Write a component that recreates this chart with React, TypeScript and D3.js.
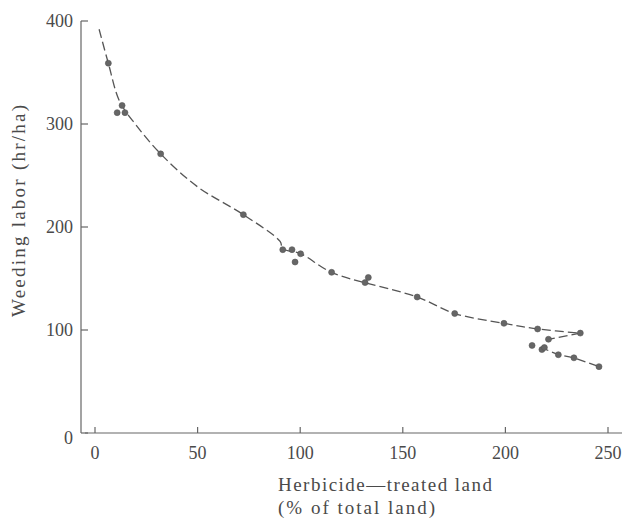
import React from "react";
import * as d3 from "d3";

const xTicks = [0, 50, 100, 150, 200, 250];
const yTicks = [0, 100, 200, 300, 400];

const pointsX = [6.5, 13.2, 10.8, 14.6, 32, 72.3, 91.5, 96, 100.2, 97.5, 115.3, 131.6, 133.2, 157, 175.3, 199.3, 215.7, 236.5, 221, 217.8, 219, 213, 225.8, 233.4, 245.6];
const pointsY = [359, 318, 311, 311, 271, 212, 178, 178, 174, 166, 156, 146, 151, 132, 116, 106.5, 101, 97, 91, 81, 83, 85, 76, 73, 64.4];

const curveX = [2, 6.5, 12, 20, 32, 50, 72.3, 90.2, 91.5, 100.4, 115.3, 157, 175.4, 199.3, 215.7, 236.5];
const curveY = [392, 359, 322, 299, 271, 239, 212, 186, 179, 174, 156, 132, 116, 106.5, 101, 97];

const tailX = [236.5, 221, 218.6, 225.8, 233.4, 245.6];
const tailY = [97, 91, 82, 76, 73, 64.4];

const xTitle1 = "Herbicide\u2014treated land";
const xTitle2 = "(% of total land)";
const yTitle = "Weeding labor (hr/ha)";

export default function App() {
  const W = 625, H = 520;
  const x = d3.scaleLinear().domain([0, 250]).range([95, 608]);
  const y = d3.scaleLinear().domain([0, 400]).range([433, 21]);
  const ink = "#4a4a4a";
  const font = "'Liberation Serif', 'DejaVu Serif', serif";

  const smooth = d3.line<[number, number]>()
    .x(d => x(d[0])).y(d => y(d[1]))
    .curve(d3.curveCatmullRom.alpha(0.5));
  const straight = d3.line<[number, number]>()
    .x(d => x(d[0])).y(d => y(d[1]));

  const curvePts: [number, number][] = curveX.map((v, i) => [v, curveY[i]]);
  const tailPts: [number, number][] = tailX.map((v, i) => [v, tailY[i]]);

  return (
    <svg width={W} height={H} style={{ position: "absolute", left: 0, top: 0, background: "#fff" }}>
      {/* y axis */}
      <line x1={81} x2={81} y1={y(400)} y2={y(0)} stroke="#666" strokeWidth={1.2} />
      {yTicks.map(t => (
        <g key={"y" + t}>
          <line x1={81} x2={88} y1={y(t)} y2={y(t)} stroke="#666" strokeWidth={1.2} />
          <text x={73} y={y(t) + (t === 0 ? 11 : 6)} textAnchor="end" fontFamily={font} fontSize={18} fill={ink}>{t}</text>
        </g>
      ))}
      {/* x axis */}
      <line x1={85} x2={622} y1={433} y2={433} stroke="#666" strokeWidth={1.2} />
      {xTicks.map(t => (
        <g key={"x" + t}>
          <line x1={x(t)} x2={x(t)} y1={433} y2={427} stroke="#666" strokeWidth={1.2} />
          <text x={x(t)} y={459} textAnchor="middle" fontFamily={font} fontSize={18} fill={ink}>{t}</text>
        </g>
      ))}
      {/* titles */}
      <text x={278} y={491} fontFamily={font} fontSize={19} fill={ink} textLength={214} lengthAdjust="spacing">{xTitle1}</text>
      <text x={278} y={514} fontFamily={font} fontSize={19} fill={ink} textLength={157} lengthAdjust="spacing">{xTitle2}</text>
      <text transform="translate(25,211) rotate(-90)" textAnchor="middle" fontFamily={font} fontSize={19} fill={ink} textLength={212} lengthAdjust="spacing">{yTitle}</text>
      {/* fitted line */}
      <path d={smooth(curvePts) || ""} fill="none" stroke="#555" strokeWidth={1.3} strokeDasharray="9,4" />
      <path d={straight(tailPts) || ""} fill="none" stroke="#555" strokeWidth={1.3} strokeDasharray="9,4" />
      {/* points */}
      {pointsX.map((v, i) => (
        <circle key={"p" + i} cx={x(v)} cy={y(pointsY[i])} r={3} fill="#666" stroke="#555" strokeWidth={0.6} />
      ))}
    </svg>
  );
}
